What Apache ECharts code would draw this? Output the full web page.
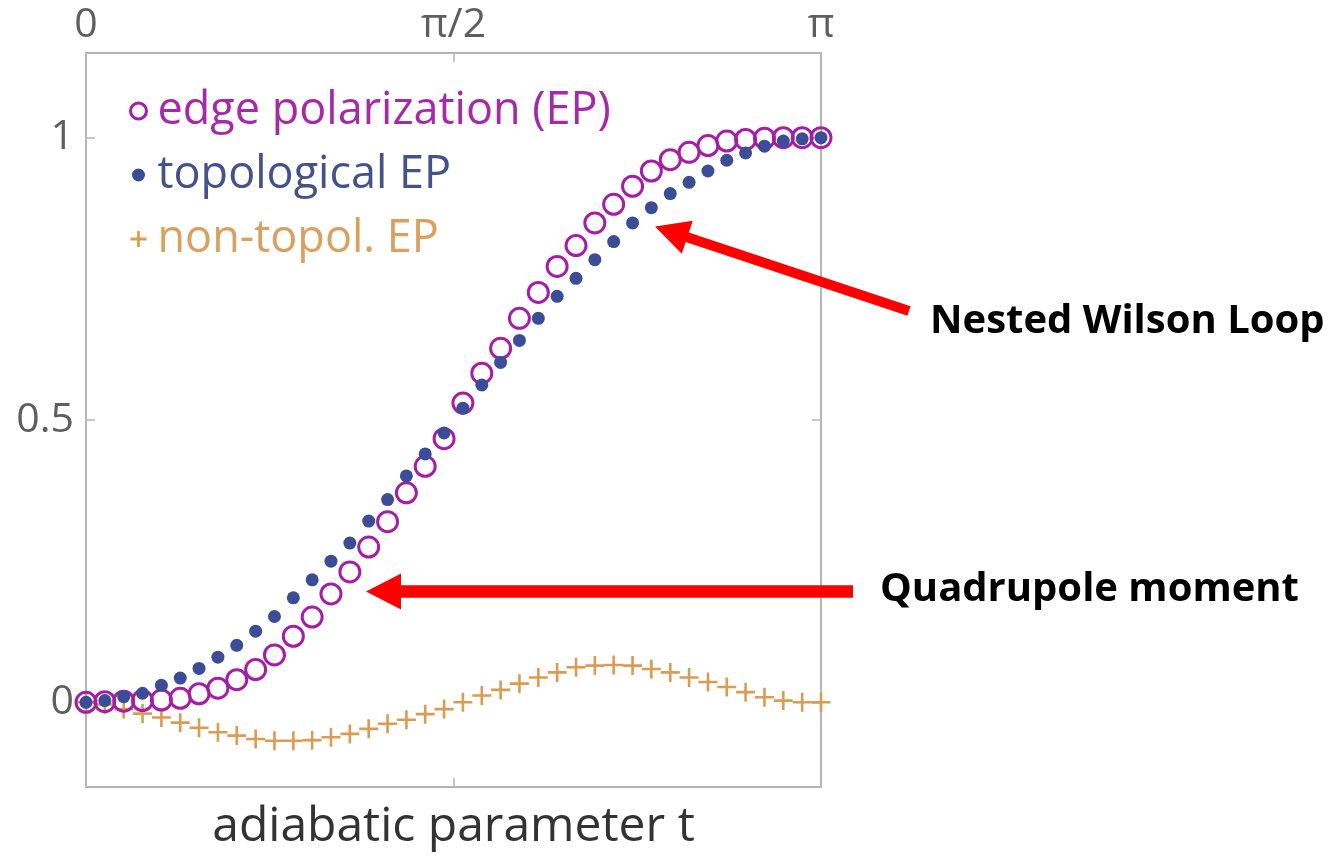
<!DOCTYPE html>
<html><head><meta charset="utf-8">
<script src="https://cdn.jsdelivr.net/npm/echarts@6/dist/echarts.min.js"></script>
<style>html,body{margin:0;padding:0;background:#fff}#c{width:1343px;height:860px}</style>
</head><body><div id="c"></div>
<script>
// adiabatic parameter t, in units of pi (40 samples from 0 to pi)
const tPi = [0, 0.0256, 0.0513, 0.0769, 0.1026, 0.1282, 0.1538, 0.1795, 0.2051, 0.2308,
  0.2564, 0.2821, 0.3077, 0.3333, 0.3590, 0.3846, 0.4103, 0.4359, 0.4615, 0.4872,
  0.5128, 0.5385, 0.5641, 0.5897, 0.6154, 0.6410, 0.6667, 0.6923, 0.7179, 0.7436,
  0.7692, 0.7949, 0.8205, 0.8462, 0.8718, 0.8974, 0.9231, 0.9487, 0.9744, 1];
const edgePolarization = [0, 0.001, 0.002, 0.003, 0.004, 0.007, 0.015, 0.025, 0.040, 0.058,
  0.084, 0.117, 0.151, 0.192, 0.231, 0.275, 0.320, 0.371, 0.418, 0.467,
  0.530, 0.583, 0.627, 0.680, 0.726, 0.772, 0.809, 0.849, 0.882, 0.914,
  0.941, 0.961, 0.974, 0.986, 0.994, 0.997, 0.999, 1.0, 1.0, 1.0];
const topologicalEP = [0, 0.003, 0.010, 0.016, 0.030, 0.043, 0.060, 0.080, 0.101, 0.126,
  0.152, 0.185, 0.217, 0.250, 0.282, 0.321, 0.359, 0.401, 0.440, 0.477,
  0.521, 0.562, 0.602, 0.641, 0.680, 0.719, 0.751, 0.784, 0.816, 0.849,
  0.876, 0.901, 0.921, 0.941, 0.960, 0.973, 0.985, 0.994, 0.998, 1.0];
const nonTopolEP = [0, -0.004, -0.012, -0.020, -0.027, -0.036, -0.045, -0.053, -0.059, -0.065,
  -0.068, -0.068, -0.067, -0.062, -0.056, -0.047, -0.038, -0.031, -0.021, -0.012,
  0.000, 0.012, 0.022, 0.033, 0.044, 0.053, 0.062, 0.065, 0.066, 0.065,
  0.059, 0.053, 0.044, 0.036, 0.027, 0.018, 0.009, 0.003, 0.000, 0.000];
const seriesNames = ['edge polarization (EP)', 'topological EP', 'non-topol. EP'];
const xTickValues = [0, 0.5, 1];
const xTickLabels = ['0', 'π/2', 'π'];
const yTickValues = [0, 0.5, 1];
const yTickLabels = ['0', '0.5', '1'];
const annotationTexts = ['Nested Wilson Loop', 'Quadrupole moment'];

const C_EP = '#a41ea6', C_TOP = '#3a4d96', C_NT = '#d99c52';
const FRAME = '#b5b5b5';
const FONT = "'Open Sans', 'Noto Sans', sans-serif";

function lookup(vals, labels) {
  return v => { const i = vals.findIndex(x => Math.abs(x - v) < 1e-9); return i >= 0 ? labels[i] : ''; };
}
function pairs(ys) { return tPi.map((t, i) => [t, ys[i]]); }

function arrow(tip, tail, halfW, headLen, headHalf) {
  const dx = tail[0] - tip[0], dy = tail[1] - tip[1];
  const L = Math.hypot(dx, dy), ux = dx / L, uy = dy / L, nx = -uy, ny = ux;
  const b = [tip[0] + ux * headLen, tip[1] + uy * headLen];
  return [
    tip,
    [b[0] + nx * headHalf, b[1] + ny * headHalf],
    [b[0] + nx * halfW, b[1] + ny * halfW],
    [tail[0] + nx * halfW, tail[1] + ny * halfW],
    [tail[0] - nx * halfW, tail[1] - ny * halfW],
    [b[0] - nx * halfW, b[1] - ny * halfW],
    [b[0] - nx * headHalf, b[1] - ny * headHalf]
  ];
}

const plusPath = 'path://M6.9,0 H9.1 V6.9 H16 V9.1 H9.1 V16 H6.9 V9.1 H0 V6.9 H6.9 Z';
const plusIcon = 'path://M6.2,0 H8.8 V6.2 H15 V8.8 H8.8 V15 H6.2 V8.8 H0 V6.2 H6.2 Z';

const chart = echarts.init(document.getElementById('c'), null, {renderer: 'canvas'});
const axisCommon = {
  type: 'value', min: 0, max: 1,
  axisLine: {show: true, onZero: false, lineStyle: {color: FRAME, width: 2}},
  axisTick: {show: true, inside: true, length: 9, customValues: xTickValues, lineStyle: {color: FRAME, width: 1.5}},
  splitLine: {show: false}
};
chart.setOption({
  animation: false,
  backgroundColor: '#fff',
  grid: {left: 86, right: 522, top: 53, bottom: 73, containLabel: false},
  xAxis: [
    Object.assign({}, axisCommon, {
      position: 'top',
      axisLabel: {customValues: xTickValues, formatter: lookup(xTickValues, xTickLabels), fontSize: 41,
        color: '#5e5e5e', margin: 7, fontFamily: FONT, showMinLabel: true, showMaxLabel: true}
    }),
    Object.assign({}, axisCommon, {
      position: 'bottom',
      axisLabel: {show: false},
      name: 'adiabatic parameter t', nameLocation: 'middle', nameGap: 16,
      nameTextStyle: {fontSize: 48, color: '#333', fontFamily: FONT}
    })
  ],
  yAxis: [
    {type: 'value', position: 'left', min: -0.15, max: 1.15,
      axisLine: {show: true, onZero: false, lineStyle: {color: FRAME, width: 2}},
      axisTick: {show: true, inside: true, length: 9, customValues: yTickValues, lineStyle: {color: FRAME, width: 1.5}},
      axisLabel: {customValues: yTickValues, formatter: lookup(yTickValues, yTickLabels), fontSize: 41,
        color: '#5e5e5e', margin: 12, fontFamily: FONT, showMinLabel: true, showMaxLabel: true},
      splitLine: {show: false}},
    {type: 'value', position: 'right', min: -0.15, max: 1.15,
      axisLine: {show: true, onZero: false, lineStyle: {color: FRAME, width: 2}},
      axisTick: {show: true, inside: true, length: 9, customValues: yTickValues, lineStyle: {color: FRAME, width: 1.5}},
      axisLabel: {show: false}, splitLine: {show: false}}
  ],
  legend: {
    orient: 'vertical', left: 124, top: 83, itemWidth: 16, itemHeight: 16, itemGap: 18,
    selectedMode: false,
    textStyle: {fontSize: 45, lineHeight: 46, fontFamily: FONT, padding: [0, 0, 0, 6]},
    data: [
      {name: seriesNames[0], icon: 'circle', itemStyle: {color: 'rgba(0,0,0,0)', borderColor: C_EP, borderWidth: 3}, textStyle: {color: '#a62aa8'}},
      {name: seriesNames[1], icon: 'circle', itemStyle: {color: C_TOP, borderWidth: 3, borderColor: '#fff'}, textStyle: {color: '#44528c'}},
      {name: seriesNames[2], icon: plusIcon, itemStyle: {color: C_NT, borderWidth: 0}, textStyle: {color: '#d9a060'}}
    ]
  },
  series: [
    {name: seriesNames[2], type: 'scatter', data: pairs(nonTopolEP), symbol: plusPath, symbolSize: 19,
      itemStyle: {color: C_NT, opacity: 1}},
    {name: seriesNames[0], type: 'scatter', data: pairs(edgePolarization), symbol: 'circle', symbolSize: 20,
      itemStyle: {color: 'rgba(0,0,0,0)', borderColor: C_EP, borderWidth: 3, opacity: 1}},
    {name: seriesNames[1], type: 'scatter', data: pairs(topologicalEP), symbol: 'circle', symbolSize: 13,
      itemStyle: {color: C_TOP, opacity: 1}}
  ],
  graphic: [
    {type: 'polygon', shape: {points: arrow([655, 226.5], [909, 311], 5, 34, 17.5)}, style: {fill: '#ff0000'}, z: 100},
    {type: 'polygon', shape: {points: arrow([366, 591.5], [853, 591.5], 6.3, 35, 18)}, style: {fill: '#ff0000'}, z: 100},
    {type: 'text', left: 930, top: 302, style: {text: annotationTexts[0], fill: '#000', font: "bold 40px 'Open Sans', sans-serif"}, z: 100},
    {type: 'text', left: 880, top: 570, style: {text: annotationTexts[1], fill: '#000', font: "bold 40px 'Open Sans', sans-serif"}, z: 100}
  ]
});
</script></body></html>
